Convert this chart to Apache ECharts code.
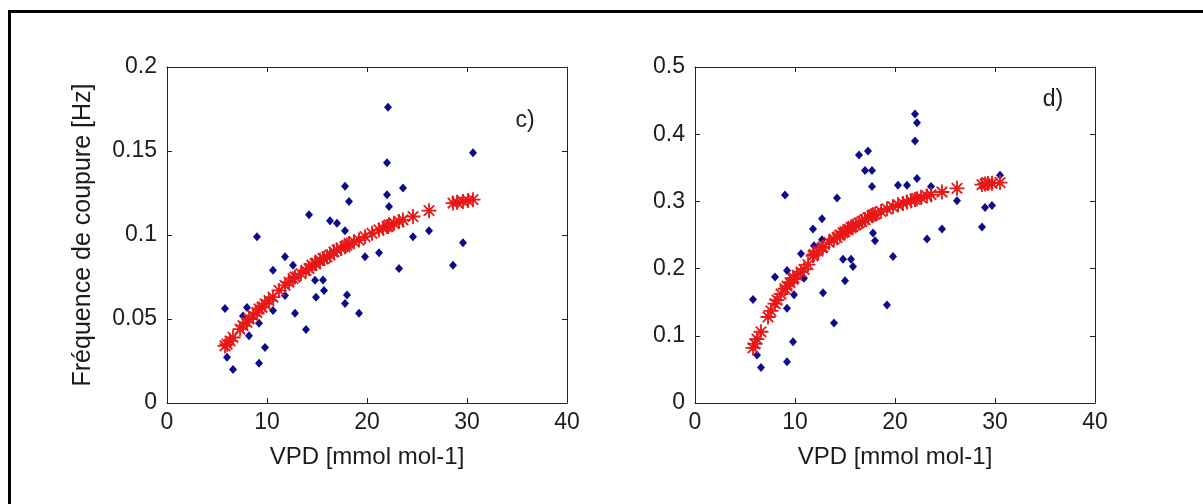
<!DOCTYPE html>
<html>
<head>
<meta charset="utf-8">
<script src="https://cdn.jsdelivr.net/npm/echarts@6/dist/echarts.min.js"></script>
<style>
html,body{margin:0;padding:0;background:#fff;}
#chart{width:1203px;height:504px;}
</style>
</head>
<body>
<div id="chart"></div>
<script>
// ---- data ----
var xTicks = [0, 10, 20, 30, 40];
var yTicksC = [0, 0.05, 0.1, 0.15, 0.2];
var yTicksD = [0, 0.1, 0.2, 0.3, 0.4, 0.5];

// panel c) measured points (blue diamonds)
var obsC = [[22.1,0.176],[30.6,0.149],[22.0,0.143],[17.8,0.129],[23.6,0.128],[18.2,0.120],[22.0,0.124],[22.2,0.117],
  [14.2,0.112],[16.3,0.1085],[17.0,0.107],[9.0,0.099],[17.8,0.1026],[26.2,0.1026],[24.6,0.099],[29.6,0.0954],
  [19.8,0.087],[21.2,0.0895],[11.8,0.087],[12.6,0.082],[10.6,0.079],[23.2,0.080],[28.6,0.082],[14.8,0.073],
  [15.6,0.0732],[15.7,0.067],[11.8,0.064],[14.9,0.063],[18.0,0.0643],[17.8,0.0593],[19.2,0.0534],[12.8,0.0534],
  [10.6,0.055],[5.8,0.0562],[8.0,0.0569],[7.6,0.0518],[9.2,0.0474],[8.2,0.040],[13.9,0.0438],[9.8,0.0331],
  [9.2,0.0236],[6.6,0.020],[6.0,0.0272]];

// panel c) fitted values (red stars)
var fitC = [[5.8,0.034],[6.0,0.035],[6.3,0.037],[6.6,0.039],[7.3,0.044],[7.6,0.046],[8.0,0.048],[8.2,0.050],
  [8.6,0.052],[9.0,0.054],[9.2,0.056],[9.5,0.057],[9.8,0.059],[10.2,0.061],[10.6,0.063],[11.2,0.067],[11.8,0.070],
  [12.2,0.072],[12.6,0.074],[12.8,0.075],[13.4,0.077],[13.9,0.079],[14.2,0.080],[14.5,0.082],[14.8,0.083],
  [14.9,0.083],[15.3,0.085],[15.6,0.086],[15.7,0.086],[16.0,0.087],[16.3,0.088],[16.7,0.090],[17.0,0.091],
  [17.4,0.092],[17.8,0.093],[18.0,0.094],[18.2,0.095],[18.7,0.096],[19.2,0.097],[19.8,0.099],[20.5,0.101],
  [21.2,0.103],[21.6,0.104],[22.0,0.105],[22.1,0.105],[22.2,0.106],[22.7,0.107],[23.2,0.108],[23.6,0.109],
  [24.6,0.111],[26.2,0.1145],[28.6,0.119],[29.0,0.1195],[29.6,0.120],[30.1,0.1205],[30.6,0.121]];

// panel d) measured points (blue diamonds)
var obsD = [[22.0,0.430],[22.2,0.417],[22.0,0.390],[16.4,0.369],[17.3,0.375],[17.0,0.346],[17.7,0.346],[22.2,0.334],
  [17.7,0.322],[20.3,0.324],[21.2,0.324],[23.6,0.322],[30.5,0.339],[9.0,0.3095],[14.2,0.305],[26.2,0.301],
  [12.7,0.274],[11.8,0.259],[17.8,0.253],[18.0,0.2415],[12.7,0.243],[23.2,0.244],[24.7,0.259],[28.7,0.262],
  [29.0,0.291],[29.7,0.294],[11.9,0.234],[10.6,0.222],[14.8,0.214],[15.6,0.214],[15.8,0.203],[19.8,0.218],
  [9.2,0.197],[8.0,0.1875],[15.0,0.182],[10.9,0.1855],[12.8,0.164],[9.9,0.161],[5.8,0.154],[9.2,0.141],
  [19.2,0.146],[13.9,0.119],[9.8,0.091],[9.2,0.0615],[6.2,0.0714],[6.6,0.053]];

// panel d) fitted values (red stars)
var fitD = [[5.8,0.082],[6.0,0.088],[6.2,0.095],[6.6,0.106],[7.3,0.128],[7.6,0.137],[8.0,0.148],[8.2,0.153],
  [8.6,0.162],[9.0,0.170],[9.2,0.174],[9.5,0.179],[9.8,0.184],[9.9,0.186],[10.2,0.190],[10.6,0.195],[10.9,0.199],
  [11.3,0.206],[11.8,0.219],[11.9,0.221],[12.3,0.226],[12.7,0.231],[12.8,0.232],[13.4,0.239],[13.9,0.244],
  [14.2,0.246],[14.5,0.250],[14.8,0.253],[15.0,0.255],[15.3,0.258],[15.6,0.261],[15.8,0.263],[16.1,0.265],
  [16.4,0.268],[16.7,0.270],[17.0,0.273],[17.3,0.276],[17.7,0.279],[17.8,0.280],[18.0,0.281],[18.6,0.285],
  [19.2,0.289],[19.8,0.292],[20.3,0.295],[20.8,0.297],[21.2,0.299],[21.6,0.301],[22.0,0.303],[22.2,0.304],
  [22.6,0.306],[23.2,0.308],[23.6,0.310],[24.7,0.314],[26.2,0.3195],[28.7,0.325],[29.0,0.326],[29.3,0.3265],
  [29.7,0.327],[30.5,0.328]];

var xName = 'VPD [mmol mol-1]';
var yNameC = 'Fréquence de coupure [Hz]';
var panelLabels = ['c)', 'd)'];

// ---- styling ----
var FONT = '"Liberation Sans", Arial, sans-serif';
var TXT = '#1c1c1c';
var AX = '#222';
var STAR = 'path://M0,-10L0,10M-10,0L10,0M-7,-7L7,7M-7,7L7,-7';

function xAxisDef(grid, pos, showLabel, name) {
  return {
    type: 'value', gridIndex: grid, position: pos, min: xTicks[0], max: xTicks[xTicks.length - 1], interval: 10,
    axisLine: {show: true, onZero: false, lineStyle: {color: AX, width: 1}},
    axisTick: {show: true, inside: true, length: 5, lineStyle: {color: AX}},
    axisLabel: {show: showLabel, fontFamily: FONT, fontSize: 23, color: TXT, margin: 8},
    splitLine: {show: false},
    name: name || '', nameLocation: 'middle', nameGap: 42,
    nameTextStyle: {fontFamily: FONT, fontSize: 24, color: TXT}
  };
}
function yAxisDef(grid, pos, ticks, showLabel, name) {
  return {
    type: 'value', gridIndex: grid, position: pos, min: ticks[0], max: ticks[ticks.length - 1],
    interval: ticks[1] - ticks[0],
    axisLine: {show: true, onZero: false, lineStyle: {color: AX, width: 1}},
    axisTick: {show: true, inside: true, length: 5, lineStyle: {color: AX}},
    axisLabel: {show: showLabel, fontFamily: FONT, fontSize: 23, color: TXT, margin: 10},
    splitLine: {show: false},
    name: name || '', nameLocation: 'middle', nameGap: 71,
    nameTextStyle: {fontFamily: FONT, fontSize: 25, color: TXT}
  };
}
function blue(xi, yi, data) {
  return {type: 'scatter', xAxisIndex: xi, yAxisIndex: yi, data: data, symbol: 'diamond', symbolSize: [8, 9],
    itemStyle: {color: '#0c0c8c', opacity: 1}, z: 2, silent: true};
}
function red(xi, yi, data) {
  return {type: 'scatter', xAxisIndex: xi, yAxisIndex: yi, data: data, symbol: STAR, symbolSize: 15,
    symbolKeepAspect: true,
    itemStyle: {color: 'rgba(0,0,0,0)', borderColor: '#e81818', borderWidth: 1.8, opacity: 1}, z: 3, silent: true};
}

var chart = echarts.init(document.getElementById('chart'), null, {renderer: 'canvas'});
chart.setOption({
  backgroundColor: '#ffffff',
  animation: false,
  grid: [
    {left: 167, top: 67, width: 400, height: 336},
    {left: 695, top: 67, width: 400, height: 336}
  ],
  xAxis: [
    xAxisDef(0, 'bottom', true, xName),
    xAxisDef(0, 'top', false),
    xAxisDef(1, 'bottom', true, xName),
    xAxisDef(1, 'top', false)
  ],
  yAxis: [
    yAxisDef(0, 'left', yTicksC, true, yNameC),
    yAxisDef(0, 'right', yTicksC, false),
    yAxisDef(1, 'left', yTicksD, true),
    yAxisDef(1, 'right', yTicksD, false)
  ],
  series: [
    blue(0, 0, obsC),
    red(0, 0, fitC),
    blue(2, 2, obsD),
    red(2, 2, fitD)
  ],
  graphic: [
    {type: 'line', shape: {x1: 8, y1: 11.5, x2: 1203, y2: 11.5}, style: {stroke: '#000', lineWidth: 3}, silent: true},
    {type: 'line', shape: {x1: 9.5, y1: 10, x2: 9.5, y2: 504}, style: {stroke: '#000', lineWidth: 3}, silent: true},
    {type: 'text', x: 525, y: 121, style: {text: panelLabels[0], font: '23px ' + FONT, fill: TXT, align: 'center', verticalAlign: 'middle'}, silent: true},
    {type: 'text', x: 1053, y: 100, style: {text: panelLabels[1], font: '23px ' + FONT, fill: TXT, align: 'center', verticalAlign: 'middle'}, silent: true}
  ]
});
</script>
</body>
</html>
